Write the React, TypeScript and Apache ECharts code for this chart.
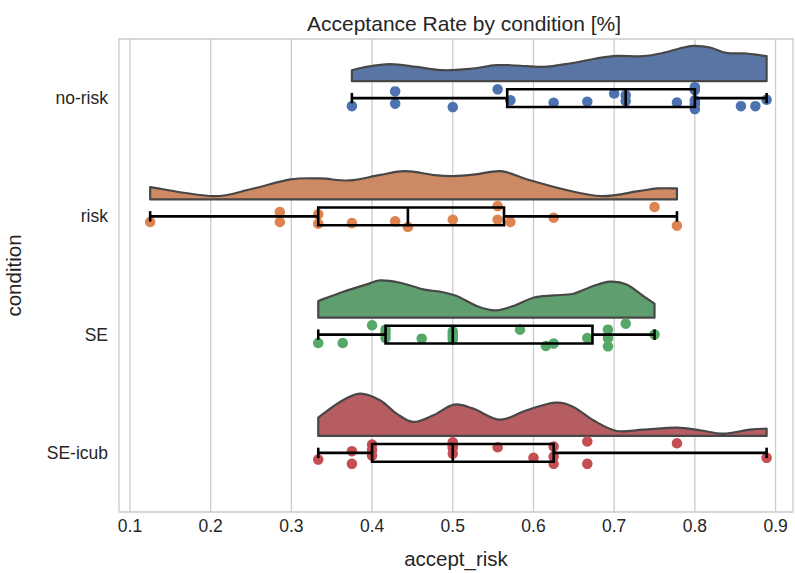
import React, { useEffect, useRef } from "react";
import * as echarts from "echarts";

const TITLE = "Acceptance Rate by condition [%]";
const X_NAME = "accept_risk";
const Y_NAME = "condition";
const CATEGORIES = ["no-risk", "risk", "SE", "SE-icub"];
const X_TICKS = [0.1, 0.2, 0.3, 0.4, 0.5, 0.6, 0.7, 0.8, 0.9];
const X_MIN = 0.0864;
const X_MAX = 0.9216;

// raw values (strip points)
const NO_RISK = [0.375, 0.4286, 0.4286, 0.5, 0.5556, 0.5714, 0.625, 0.6667, 0.7, 0.7143, 0.7143, 0.7778, 0.8, 0.8, 0.8, 0.8, 0.8, 0.8571, 0.875, 0.8889];
const NO_RISK_JITTER = [0.068, -0.057, 0.047, 0.076, -0.074, 0.019, 0.039, 0.03, -0.039, -0.023, 0.025, 0.038, -0.093, 0.019, 0.093, -0.068, 0.051, 0.068, 0.068, 0.014];

const RISK = [0.125, 0.2857, 0.2857, 0.3333, 0.3333, 0.375, 0.4286, 0.4444, 0.5, 0.5556, 0.5556, 0.5714, 0.625, 0.75, 0.7778];
const RISK_JITTER = [0.048, -0.036, 0.048, -0.017, 0.062, 0.057, 0.042, 0.09, 0.028, -0.087, 0.028, 0.048, 0.011, -0.079, 0.079];

const SE = [0.3333, 0.3636, 0.4, 0.4167, 0.4167, 0.4167, 0.4615, 0.5, 0.5, 0.5, 0.5, 0.5833, 0.6154, 0.625, 0.6667, 0.6923, 0.6923, 0.6923, 0.7143, 0.75];
const SE_JITTER = [0.071, 0.071, -0.079, -0.042, 0.029, -0.008, 0.034, -0.028, 0.02, -0.004, 0.042, -0.042, 0.096, 0.076, 0.029, -0.042, 0.029, 0.099, -0.093, 0.0];

const SE_ICUB = [0.3333, 0.375, 0.375, 0.4, 0.4, 0.4, 0.5, 0.5, 0.5, 0.5, 0.5556, 0.6, 0.625, 0.625, 0.625, 0.6667, 0.6667, 0.7778, 0.8889];
const SE_ICUB_JITTER = [0.057, -0.014, 0.093, -0.07, -0.025, 0.023, -0.09, -0.042, 0.008, -0.059, -0.047, 0.042, -0.053, 0.031, 0.093, -0.096, 0.093, -0.081, 0.042];

// half-violin density profiles (relative density, 1 = widest)
const NO_RISK_DENS_X = [0.375, 0.389, 0.422, 0.455, 0.488, 0.521, 0.554, 0.579, 0.612, 0.645, 0.678, 0.703, 0.736, 0.761, 0.786, 0.8, 0.819, 0.839, 0.864, 0.88, 0.8889];
const NO_RISK_DENS = [0.26, 0.324, 0.402, 0.338, 0.26, 0.291, 0.378, 0.371, 0.338, 0.418, 0.537, 0.598, 0.591, 0.669, 0.797, 0.835, 0.797, 0.669, 0.655, 0.615, 0.591];

const RISK_DENS_X = [0.125, 0.2024, 0.2482, 0.2988, 0.3354, 0.372, 0.4089, 0.441, 0.4777, 0.5006, 0.5282, 0.5603, 0.5924, 0.6383, 0.6842, 0.7301, 0.7531, 0.7778];
const RISK_DENS = [0.291, 0.078, 0.236, 0.473, 0.496, 0.449, 0.574, 0.669, 0.574, 0.551, 0.591, 0.669, 0.473, 0.236, 0.078, 0.196, 0.26, 0.26];

const SE_DENS_X = [0.3333, 0.3643, 0.3933, 0.4098, 0.4346, 0.4635, 0.4841, 0.5048, 0.5296, 0.5523, 0.575, 0.5998, 0.6245, 0.6493, 0.6741, 0.6948, 0.7154, 0.7361, 0.75];
const SE_DENS = [0.395, 0.615, 0.787, 0.882, 0.827, 0.669, 0.615, 0.513, 0.277, 0.173, 0.277, 0.473, 0.527, 0.567, 0.749, 0.851, 0.787, 0.513, 0.331];

const SE_ICUB_DENS_X = [0.3333, 0.3602, 0.385, 0.4098, 0.4304, 0.4511, 0.4759, 0.5015, 0.5254, 0.5585, 0.5916, 0.6266, 0.6493, 0.6741, 0.7031, 0.7361, 0.7774, 0.8063, 0.8352, 0.8683, 0.8889];
const SE_ICUB_DENS = [0.433, 0.804, 1.0, 0.844, 0.527, 0.331, 0.489, 0.74, 0.645, 0.385, 0.608, 0.787, 0.686, 0.371, 0.118, 0.149, 0.196, 0.135, 0.054, 0.149, 0.173];

const GROUPS = [NO_RISK, RISK, SE, SE_ICUB];
const JITTERS = [NO_RISK_JITTER, RISK_JITTER, SE_JITTER, SE_ICUB_JITTER];
const DENS_X = [NO_RISK_DENS_X, RISK_DENS_X, SE_DENS_X, SE_ICUB_DENS_X];
const DENS = [NO_RISK_DENS, RISK_DENS, SE_DENS, SE_ICUB_DENS];

const VIOLIN_COLORS = ["#5975A4", "#CC8963", "#5F9E6E", "#B55D60"];
const POINT_COLORS = ["#4C72B0", "#DD8452", "#55A868", "#C44E52"];

const FONT = "'Liberation Sans', Arial, sans-serif";
const TEXT_COLOR = "#262626";
const GRID_COLOR = "#cccccc";

const VIOLIN_HALF_WIDTH = 0.358;
const VIOLIN_OFFSET = 0.143;
const BOX_WIDTH = 0.15;
const CAP_WIDTH = 0.088;

function percentile(sorted: number[], p: number) {
  const idx = (sorted.length - 1) * p;
  const lo = Math.floor(idx);
  const hi = Math.ceil(idx);
  return sorted[lo] + (sorted[hi] - sorted[lo]) * (idx - lo);
}

function boxStats(data: number[]) {
  const s = [...data].sort((a, b) => a - b);
  const q1 = percentile(s, 0.25);
  const med = percentile(s, 0.5);
  const q3 = percentile(s, 0.75);
  const iqr = q3 - q1;
  const lo = s.filter((v) => v >= q1 - 1.5 * iqr)[0];
  const hiArr = s.filter((v) => v <= q3 + 1.5 * iqr);
  const hi = hiArr[hiArr.length - 1];
  return { q1, med, q3, lo, hi };
}

// smooth path (Catmull-Rom rendered as cubic Beziers) through the outline
function outlinePath(pts: number[][], base: number) {
  const n = pts.length;
  let d = `M${pts[0][0]},${base} L${pts[0][0]},${pts[0][1]}`;
  for (let i = 0; i < n - 1; i++) {
    const p0 = pts[Math.max(0, i - 1)];
    const p1 = pts[i];
    const p2 = pts[i + 1];
    const p3 = pts[Math.min(n - 1, i + 2)];
    const c1x = p1[0] + (p2[0] - p0[0]) / 6;
    const c1y = p1[1] + (p2[1] - p0[1]) / 6;
    const c2x = p2[0] - (p3[0] - p1[0]) / 6;
    const c2y = p2[1] - (p3[1] - p1[1]) / 6;
    d += ` C${c1x},${c1y} ${c2x},${c2y} ${p2[0]},${p2[1]}`;
  }
  d += ` L${pts[n - 1][0]},${base} Z`;
  return d;
}

export default function App() {
  const ref = useRef<HTMLDivElement>(null);

  useEffect(() => {
    if (!ref.current) return;
    const chart = echarts.init(ref.current, null, { renderer: "svg" });
    const stats = GROUPS.map(boxStats);

    const gridSeries = {
      type: "custom",
      xAxisIndex: 0,
      yAxisIndex: 1,
      z: 1,
      silent: true,
      data: X_TICKS.map((t) => [t, 0]),
      renderItem: (params: any, api: any) => {
        const v = X_TICKS[params.dataIndex];
        const a = api.coord([v, -0.5]);
        const b = api.coord([v, 3.5]);
        return {
          type: "line",
          shape: { x1: a[0], y1: a[1], x2: b[0], y2: b[1] },
          style: { stroke: GRID_COLOR, lineWidth: 1.3 },
        };
      },
    };

    const violinSeries = {
      type: "custom",
      xAxisIndex: 0,
      yAxisIndex: 1,
      z: 2,
      silent: true,
      data: CATEGORIES.map((c, i) => [DENS_X[i][0], i]),
      renderItem: (params: any, api: any) => {
        const ci = params.dataIndex;
        const xs = DENS_X[ci];
        const ds = DENS[ci];
        const band = api.size([0, 1])[1];
        const base = api.coord([xs[0], ci])[1] - VIOLIN_OFFSET * band;
        const pts = xs.map((x, j) => [api.coord([x, ci])[0], base - ds[j] * VIOLIN_HALF_WIDTH * band]);
        return {
          type: "path",
          shape: { pathData: outlinePath(pts, base) },
          style: { fill: VIOLIN_COLORS[ci], stroke: "#474747", lineWidth: 2.2, lineJoin: "round" },
        };
      },
    };

    const stripSeries = GROUPS.map((g, ci) => ({
      type: "scatter",
      xAxisIndex: 0,
      yAxisIndex: 1,
      z: 3,
      silent: true,
      symbol: "circle",
      symbolSize: 10.5,
      itemStyle: { color: POINT_COLORS[ci], opacity: 1 },
      data: g.map((v, j) => [v, ci + JITTERS[ci][j]]),
    }));

    const boxSeries = {
      type: "custom",
      xAxisIndex: 0,
      yAxisIndex: 1,
      z: 4,
      silent: true,
      data: CATEGORIES.map((c, i) => [stats[i].med, i]),
      renderItem: (params: any, api: any) => {
        const ci = params.dataIndex;
        const s = stats[ci];
        const band = api.size([0, 1])[1];
        const cy = api.coord([s.med, ci])[1];
        const hb = (BOX_WIDTH / 2) * band;
        const hc = (CAP_WIDTH / 2) * band;
        const xq1 = api.coord([s.q1, ci])[0];
        const xq3 = api.coord([s.q3, ci])[0];
        const xm = api.coord([s.med, ci])[0];
        const xlo = api.coord([s.lo, ci])[0];
        const xhi = api.coord([s.hi, ci])[0];
        const st = { stroke: "#000000", lineWidth: 2.6, fill: "none" };
        return {
          type: "group",
          children: [
            { type: "line", shape: { x1: xlo, y1: cy, x2: xq1, y2: cy }, style: st },
            { type: "line", shape: { x1: xq3, y1: cy, x2: xhi, y2: cy }, style: st },
            { type: "line", shape: { x1: xlo, y1: cy - hc, x2: xlo, y2: cy + hc }, style: st },
            { type: "line", shape: { x1: xhi, y1: cy - hc, x2: xhi, y2: cy + hc }, style: st },
            { type: "rect", shape: { x: xq1, y: cy - hb, width: xq3 - xq1, height: 2 * hb }, style: st },
            { type: "line", shape: { x1: xm, y1: cy - hb, x2: xm, y2: cy + hb }, style: st },
          ],
        };
      },
    };

    chart.setOption({
      animation: false,
      backgroundColor: "#ffffff",
      textStyle: { fontFamily: FONT },
      title: {
        text: TITLE,
        left: 459,
        top: 8,
        textAlign: "center",
        textStyle: { fontFamily: FONT, fontSize: 21, fontWeight: "normal", color: TEXT_COLOR },
      },
      grid: {
        left: 119,
        right: 2,
        top: 39,
        bottom: 61,
        show: true,
        borderColor: GRID_COLOR,
        borderWidth: 1.3,
        backgroundColor: "transparent",
        containLabel: false,
        outerBoundsMode: "none",
      },
      xAxis: {
        type: "value",
        min: X_MIN,
        max: X_MAX,
        axisLine: { show: false },
        axisTick: { show: false },
        splitLine: { show: false },
        axisLabel: {
          customValues: X_TICKS,
          formatter: (v: number) => v.toFixed(1),
          fontSize: 17.5,
          color: TEXT_COLOR,
          fontFamily: FONT,
          margin: 5,
        },
        name: X_NAME,
        nameLocation: "middle",
        nameGap: 36,
        nameTextStyle: { fontSize: 20.5, color: TEXT_COLOR, fontFamily: FONT },
      },
      yAxis: [
        {
          type: "category",
          data: CATEGORIES,
          inverse: true,
          boundaryGap: true,
          axisLine: { show: false },
          axisTick: { show: false },
          splitLine: { show: false },
          axisLabel: { fontSize: 17.5, color: TEXT_COLOR, fontFamily: FONT, margin: 11 },
          name: Y_NAME,
          nameLocation: "middle",
          nameRotate: 90,
          nameGap: 95,
          nameTextStyle: { fontSize: 20.5, color: TEXT_COLOR, fontFamily: FONT },
        },
        {
          type: "value",
          min: -0.5,
          max: 3.5,
          inverse: true,
          show: false,
          splitLine: { show: false },
        },
      ],
      series: [gridSeries, violinSeries, ...stripSeries, boxSeries],
    });

    return () => chart.dispose();
  }, []);

  return (
    <div
      ref={ref}
      style={{ position: "fixed", left: 0, top: 0, width: 795, height: 573, background: "#fff" }}
    />
  );
}
